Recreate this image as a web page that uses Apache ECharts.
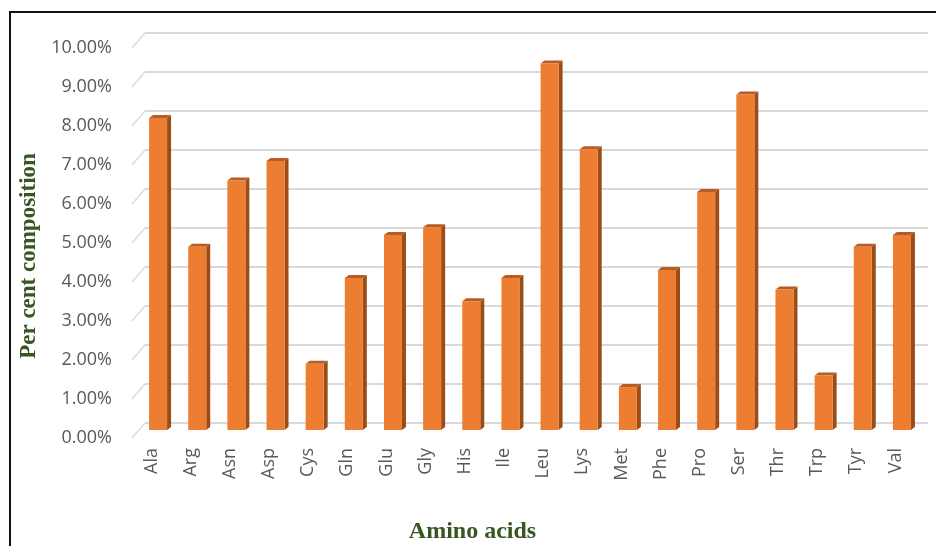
<!DOCTYPE html>
<html>
<head>
<meta charset="utf-8">
<script src="https://cdn.jsdelivr.net/npm/echarts@6/dist/echarts.min.js"></script>
<style>
  html, body { margin: 0; padding: 0; background: #fff; }
  #frame { position: absolute; left: 9px; top: 11px; width: 927px; height: 535px;
           border-left: 2px solid #111; border-top: 2px solid #111; }
  #chart { position: absolute; left: 0; top: 0; width: 936px; height: 546px; }
</style>
</head>
<body>
<div id="frame"></div>
<div id="chart"></div>
<script>
// amino acid composition (%)
const categories = ['Ala', 'Arg', 'Asn', 'Asp', 'Cys', 'Gln', 'Glu', 'Gly', 'His', 'Ile',
  'Leu', 'Lys', 'Met', 'Phe', 'Pro', 'Ser', 'Thr', 'Trp', 'Tyr', 'Val']
const values = [8.0, 4.7, 6.4, 6.9, 1.7, 3.9, 5.0, 5.2, 3.3, 3.9,
  9.4, 7.2, 1.1, 4.1, 6.1, 8.6, 3.6, 1.4, 4.7, 5.0]
const yTicks = [0, 1, 2, 3, 4, 5, 6, 7, 8, 9, 10]

// 3d offsets: back wall and column mid-depth
const WALL_DX = 13, WALL_DY = 15
const BAR_DX = 6.5, BAR_DY = 8
const myChart = echarts.init(document.getElementById('chart'))

let option = {
  animation: false,
  grid: { left: 132, right: 21, top: 48, bottom: 108, outerBoundsMode: 'none' },
  xAxis: {
    type: 'category',
    data: categories,
    name: 'Amino acids',
    nameLocation: 'middle',
    nameGap: 82,
    nameTextStyle: {
      fontFamily: 'Liberation Serif', fontWeight: 'bold', fontSize: 24, color: '#375623',
      padding: [0, 102, 0, 0]
    },
    axisLine: { show: false },
    axisTick: { show: false },
    axisLabel: { rotate: 90, margin: 10, fontFamily: 'Open Sans', fontSize: 18, color: '#595959' }
  },
  yAxis: {
    type: 'value',
    min: 0,
    max: 10,
    interval: 1,
    name: 'Per cent composition',
    nameLocation: 'middle',
    nameGap: 90,
    nameTextStyle: {
      fontFamily: 'Liberation Serif', fontWeight: 'bold', fontSize: 23, color: '#375623',
      padding: [0, 26, 0, 0]
    },
    axisLine: { show: false },
    axisTick: { show: false },
    splitLine: { show: false },
    axisLabel: {
      margin: 20,
      fontFamily: 'Open Sans',
      fontSize: 18,
      color: '#595959',
      formatter(val) {
        return val.toFixed(2) + '%'
      }
    }
  },
  series: [
    {
      // back wall gridlines
      type: 'custom',
      silent: true,
      data: yTicks.map(t => [0, t]),
      renderItem(params, api) {
        const cs = params.coordSys
        const y = api.coord([0, api.value(1)])[1]
        return {
          type: 'group',
          children: [
            { type: 'line', shape: { x1: cs.x, y1: y, x2: cs.x + WALL_DX, y2: y - WALL_DY },
              style: { stroke: '#d6dde6', lineWidth: 1.5 } },
            { type: 'line', shape: { x1: cs.x + WALL_DX, y1: y - WALL_DY, x2: cs.x + cs.width + WALL_DX, y2: y - WALL_DY },
              style: { stroke: '#d9d9d9', lineWidth: 2 } }
          ]
        }
      }
    },
    {
      // 3d columns
      type: 'custom',
      data: values.map((v, i) => [i, v]),
      renderItem(params, api) {
        const top = api.coord([api.value(0), api.value(1)])
        const base = api.coord([api.value(0), 0])
        const cx = top[0] + BAR_DX
        const ty = top[1] - BAR_DY
        const by = base[1] - BAR_DY
        const w = 18, d = 4, h = 3
        return {
          type: 'group',
          children: [
            { type: 'polygon',
              shape: { points: [[cx + w / 2, ty], [cx + w / 2 + d, ty - h], [cx + w / 2 + d, by - h], [cx + w / 2, by]] },
              style: { fill: '#9c4d17' } },
            { type: 'polygon',
              shape: { points: [[cx - w / 2, ty], [cx - w / 2 + d, ty - h], [cx + w / 2 + d, ty - h], [cx + w / 2, ty]] },
              style: { fill: '#b85d22' } },
            { type: 'rect', shape: { x: cx - w / 2, y: ty, width: w, height: by - ty },
              style: { fill: '#ed7d31' } }
          ]
        }
      }
    }
  ]
}
myChart.setOption(option)
</script>
</body>
</html>
